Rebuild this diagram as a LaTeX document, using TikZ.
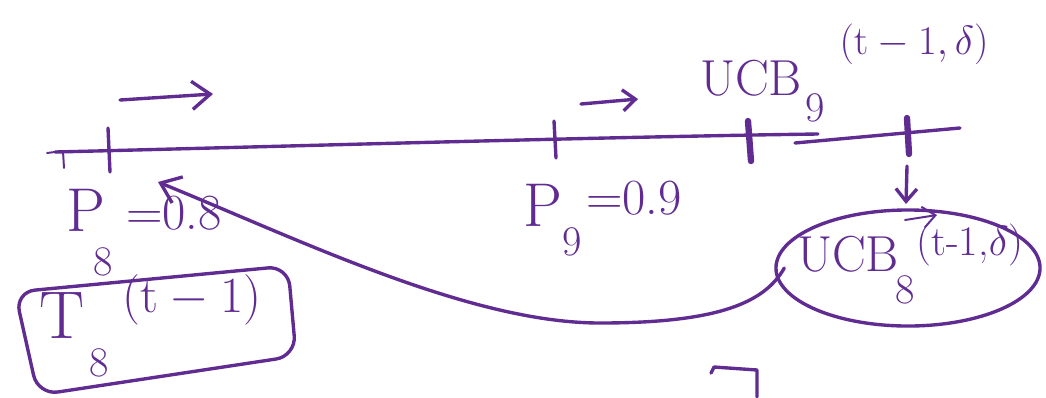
\RequirePackage{fix-cm}
\documentclass[tikz,border=0pt]{standalone}
\usepackage{amsmath}
\usepackage{amssymb}
\usepackage{xcolor}
\usepackage{tikz}
\usetikzlibrary{shapes.geometric, arrows.meta, positioning, calc}
\definecolor{ink}{RGB}{96,44,146}
\newcommand{\inkfont}[1]{\fontsize{#1}{#1}\selectfont}

\begin{document}
\begin{tikzpicture}[x=0.025cm, y=-0.025cm, line cap=round, line join=round,
    pen/.style={ink, line width=2.4pt},
    heavy/.style={ink, line width=4.5pt},
    thin pen/.style={ink, line width=1.4pt},
    ink text/.style={ink, inner sep=0pt},
    barb/.style={-{Straight Barb[length=13pt, width=20pt]}},
    small barb/.style={-{Straight Barb[length=9pt, width=15pt]}}]
  \useasboundingbox (0,0) rectangle (1046,397);

  % Axis
  \draw[thin pen] (47,153) -- (63,151) -- (64,168);
  \draw[pen] (55,152) .. controls (300,146) and (600,137) .. (818,134);
  \draw[pen] (795,143) -- (960,128);
  % Ticks
  \draw[pen] (108,128) -- (110,172);
  \draw[pen] (554,121) -- (556,158);
  \draw[heavy] (748,121) -- (751,161);
  \draw[heavy] (907,118) -- (909,154);

  % Direction arrows
  \coordinate (dir1a) at (120,100);
  \coordinate (dir1b) at (213,94);
  \coordinate (dir2a) at (581,104);
  \coordinate (dir2b) at (638,99);
  \draw[pen, barb] (dir1a) -- (dir1b);
  \draw[pen, small barb] (dir2a) -- (dir2b);

  % Probabilities
  \node[ink text, font=\inkfont{44}] (p8) at (86,210) {P};
  \node[ink text, font=\inkfont{30}] (p8sub) at (103,262) {8};
  \node[ink text, font=\inkfont{36}] (p8val) at (174,213) {=0.8};
  \node[ink text, font=\inkfont{44}] (p9) at (543,205) {P};
  \node[ink text, font=\inkfont{30}] (p9sub) at (572,242) {9};
  \node[ink text, font=\inkfont{36}] (p9val) at (634,198) {=0.9};

  % UCB of arm 9
  \node[ink text, font=\inkfont{36}] (ucb9) at (751,78) {UCB};
  \node[ink text, font=\inkfont{30}] (ucb9sub) at (815,108) {9};
  \node[ink text, font=\inkfont{29}] (ucb9arg) at (914,44) {$(\mathrm{t}-1,\delta)$};

  % UCB of arm 8
  \node[draw=ink, line width=2.4pt, ellipse, minimum width=6.6cm, minimum height=2.9cm] (ucb8) at (908,268) {};
  \node[ink text, font=\inkfont{36}] (ucb8u) at (848,254) {UCB};
  \node[ink text, font=\inkfont{30}] (ucb8sub) at (905,290) {8};
  \node[ink text, font=\inkfont{30}] (ucb8arg) at (970,245) {(t-1,$\delta$)};
  \draw[pen, small barb] (907,166) -- (906,204);
  \draw[thin pen, small barb] (905,220) -- (937,215);

  % Count of arm 8
  \draw[pen, rounded corners=0.5cm] (15,292) -- (288,266) -- (296,356) -- (38,395) -- cycle;
  \node[ink text, font=\inkfont{48}] (t8) at (62,316) {T};
  \node[ink text, font=\inkfont{30}] (t8sub) at (99,363) {8};
  \node[ink text, font=\inkfont{36}] (t8arg) at (192,300) {$(\mathrm{t}-1)$};

  % Back to arm 8
  \coordinate (hook) at (158,182);
  \draw[pen, barb] ([shift={(10,0)}]ucb8.west) .. controls (765,302) and (720,323) .. (600,323)
    .. controls (470,323) and (300,240) .. (hook);

  \draw[pen] (711,373) -- (714,367) -- (757,370) -- (757,397);
\end{tikzpicture}
\end{document}
